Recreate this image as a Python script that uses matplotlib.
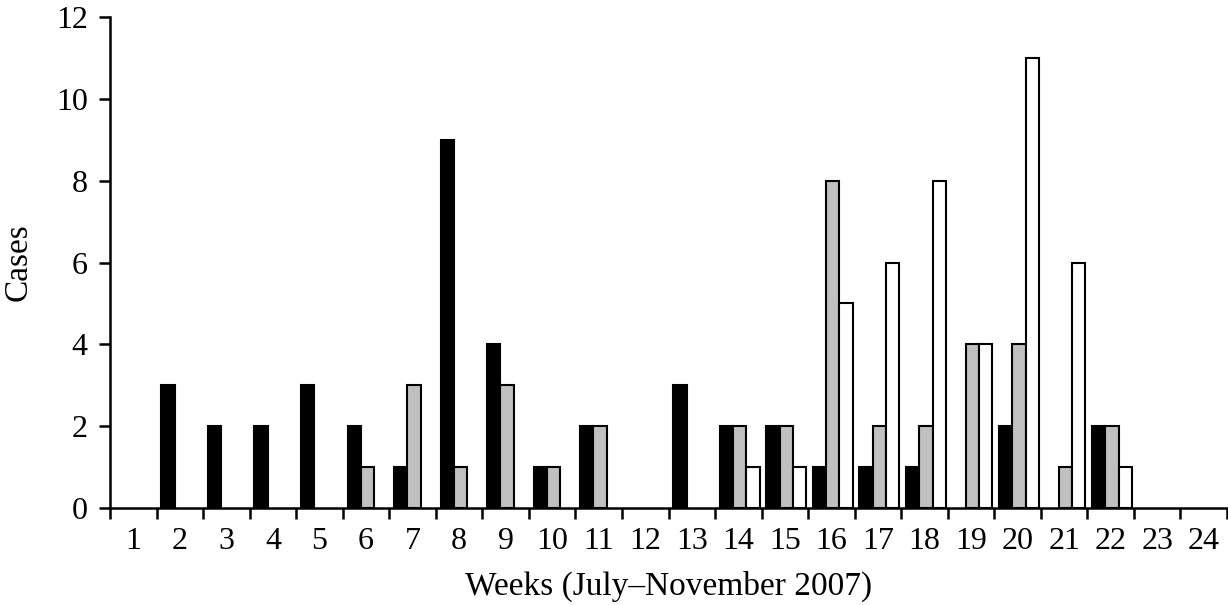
import numpy as np
import matplotlib
matplotlib.use('Agg')
import matplotlib.pyplot as plt

weeks = list(range(1, 25))
black_cases = [0, 3, 2, 2, 3, 2, 1, 9, 4, 1, 2, 0, 3, 2, 2, 1, 1, 1, 0, 2, 0, 2, 0, 0]
gray_cases = [0, 0, 0, 0, 0, 1, 3, 1, 3, 1, 2, 0, 0, 2, 2, 8, 2, 2, 4, 4, 1, 2, 0, 0]
white_cases = [0, 0, 0, 0, 0, 0, 0, 0, 0, 0, 0, 0, 0, 1, 1, 5, 6, 8, 4, 11, 6, 1, 0, 0]
y_ticks = [0, 2, 4, 6, 8, 10, 12]

plt.rcParams['font.family'] = ['Liberation Serif', 'DejaVu Serif']

fig = plt.figure(figsize=(12.28, 6.05), dpi=100)
ax = fig.add_axes([0.0896, 0.1603, 0.9096, 0.8116])

x = np.array(weeks, dtype=float)
w = 0.285
shift = 0.03
for vals, off, col in [(black_cases, -w, 'black'),
                       (gray_cases, 0.0, '#c0c0c0'),
                       (white_cases, w, 'white')]:
    v = np.array(vals, dtype=float)
    m = v > 0
    ax.bar(x[m] + off + shift, v[m], width=w, color=col,
           edgecolor='black', linewidth=1.5, zorder=2)

ax.set_xlim(0.5, 24.5)
ax.set_ylim(0, 12)
ax.set_yticks(y_ticks)
ax.set_yticklabels([str(t) for t in y_ticks])

# tick marks at week boundaries, labels at week centres
ax.set_xticks(np.arange(0.5, 25, 1.0))
ax.set_xticklabels([])
ax.set_xticks(x, minor=True)
ax.set_xticklabels([str(wk) for wk in weeks], minor=True)
ax.tick_params(axis='x', which='major', direction='out', length=8, width=1.8)
ax.tick_params(axis='x', which='minor', length=0, pad=14, labelsize=23)
ax.tick_params(axis='y', direction='out', length=8, width=1.8, labelsize=23, pad=8)

for s in ['top', 'right']:
    ax.spines[s].set_visible(False)
for s in ['left', 'bottom']:
    ax.spines[s].set_linewidth(1.8)

ax.set_xlabel('Weeks (July\u2013November 2007)', fontsize=24, labelpad=10)
ax.set_ylabel('Cases', fontsize=24, labelpad=16)

fig.savefig('out.png', dpi=100)
